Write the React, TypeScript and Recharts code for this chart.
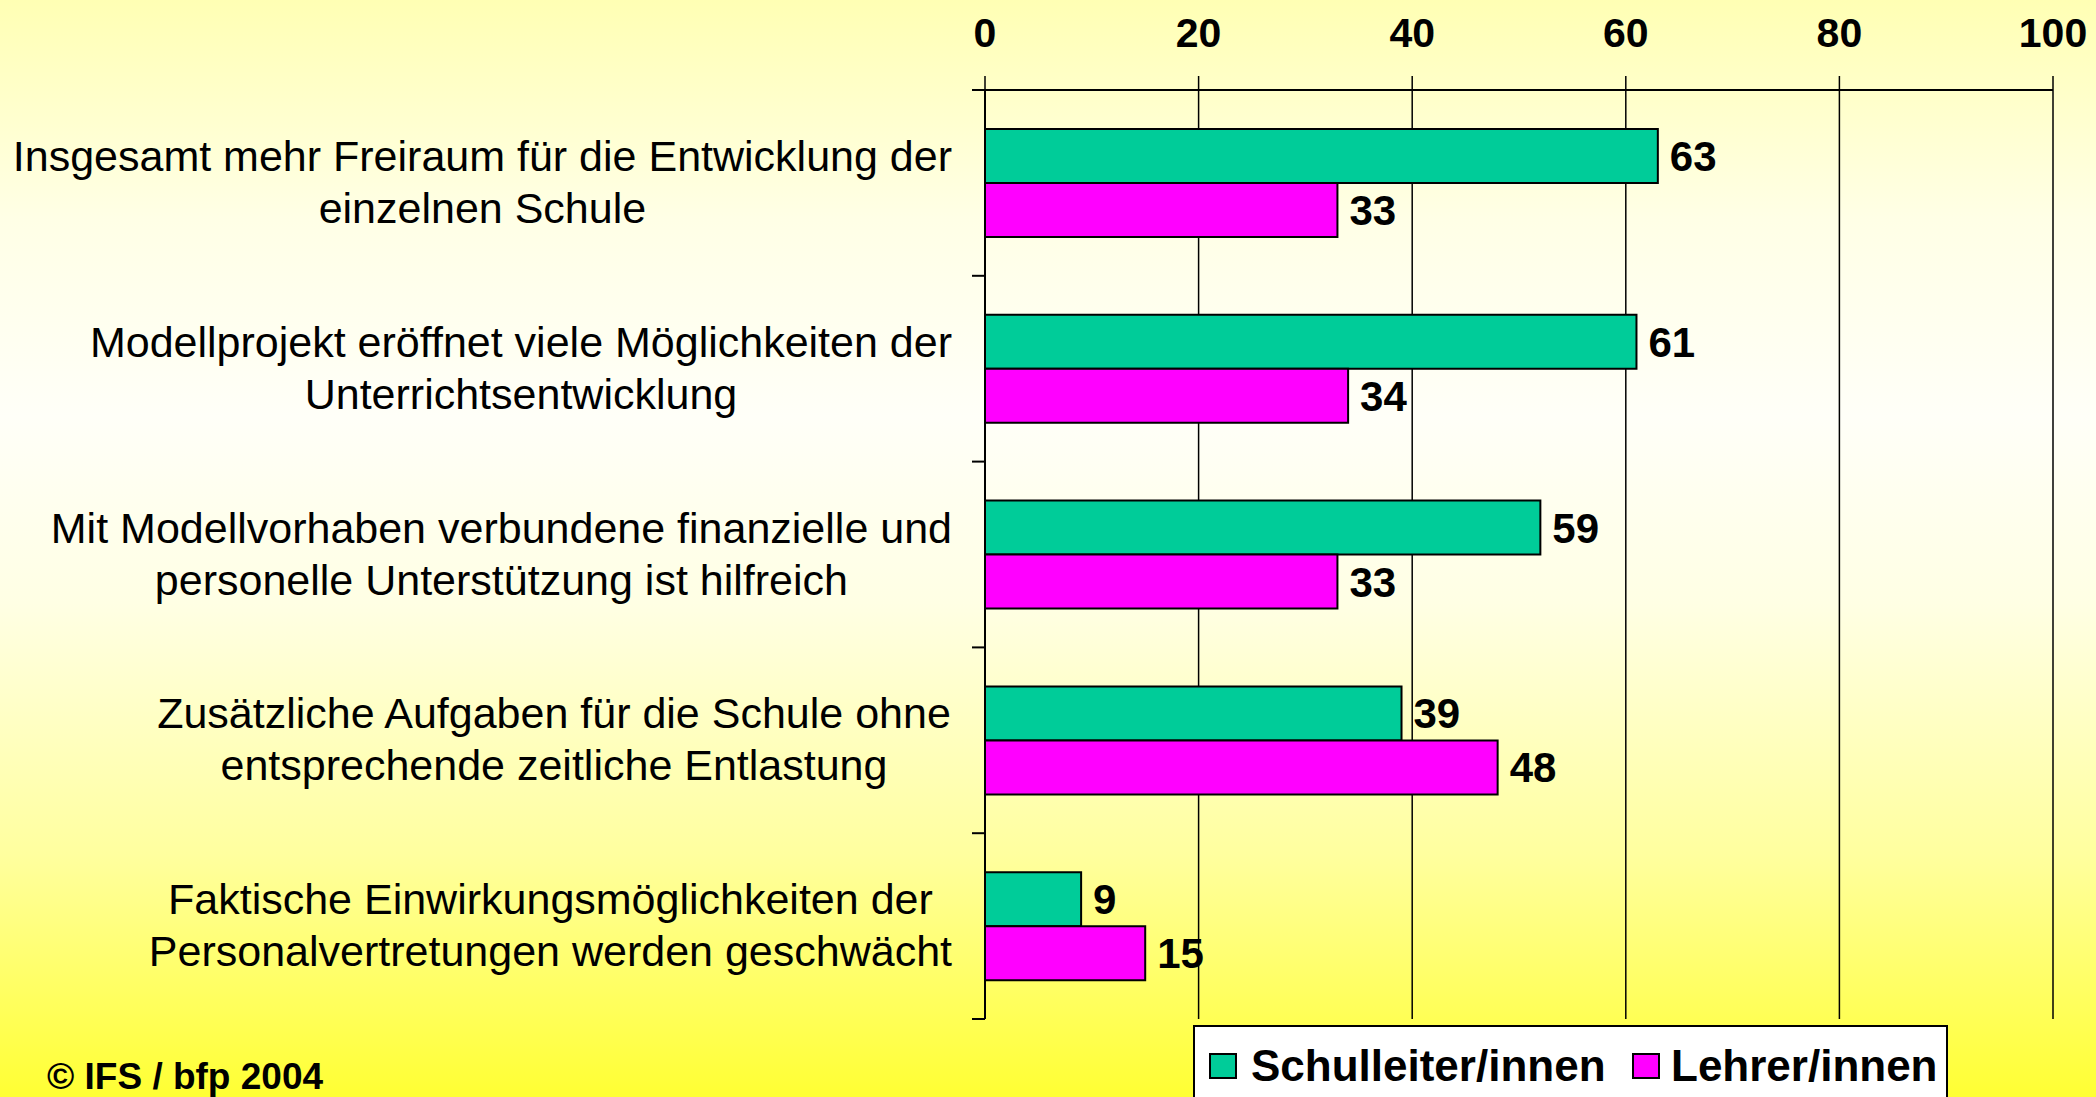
import React from "react";
import { BarChart, Bar, XAxis, YAxis, CartesianGrid, LabelList } from "recharts";

const categories = [
  "Insgesamt mehr Freiraum für die Entwicklung der\neinzelnen Schule",
  "Modellprojekt eröffnet viele Möglichkeiten der\nUnterrichtsentwicklung",
  "Mit Modellvorhaben verbundene finanzielle und\npersonelle Unterstützung ist hilfreich",
  "Zusätzliche Aufgaben für die Schule ohne\nentsprechende zeitliche Entlastung",
  "Faktische Einwirkungsmöglichkeiten der\nPersonalvertretungen werden geschwächt",
];
// bar lengths as drawn; the third green bar is drawn shorter than its printed label
const schulleiter = [63, 61, 52, 39, 9];
const schulleiterLabels = [63, 61, 59, 39, 9];
const lehrer = [33, 34, 33, 48, 15];
const lehrerLabels = [33, 34, 33, 48, 15];
const xTicks = [0, 20, 40, 60, 80, 100];

const seriesNames = ["Schulleiter/innen", "Lehrer/innen"];
const GREEN = "#00CC99";
const MAGENTA = "#FF00FF";
const FONT = "'Liberation Sans', Arial, sans-serif";

const W = 2096;
const H = 1097;
const TOP = 90;
const BOTTOM = 78;
const LEFT = 985;
const RIGHT = 43;
const PLOT_H = H - TOP - BOTTOM;

const data = categories.map((name, i) => ({
  name,
  schul: schulleiter[i],
  schulLabel: schulleiterLabels[i],
  lehrer: lehrer[i],
  lehrerLabel: lehrerLabels[i],
}));

let ctx: CanvasRenderingContext2D | null = null;
const measure = (s: string) => {
  if (!ctx) {
    ctx = document.createElement("canvas").getContext("2d");
  }
  if (!ctx) return s.length * 20;
  ctx.font = `43px ${FONT}`;
  return ctx.measureText(s).width;
};

const CategoryTick = (props: any) => {
  const { y, payload, index } = props;
  const lines = String(payload.value).split("\n");
  const widest = Math.max(...lines.map(measure));
  const cx = 952 - widest / 2;
  const band = PLOT_H / categories.length;
  return (
    <g>
      <line x1={972} x2={LEFT} y1={y - band / 2} y2={y - band / 2} stroke="#000" strokeWidth={2} />
      {index === categories.length - 1 && (
        <line x1={972} x2={LEFT} y1={y + band / 2} y2={y + band / 2} stroke="#000" strokeWidth={2} />
      )}
      <text textAnchor="middle" fontSize={43} fontFamily={FONT} fill="#000">
        {lines.map((l, i) => (
          <tspan key={i} x={cx} y={y - 12 + i * 52}>
            {l}
          </tspan>
        ))}
      </text>
    </g>
  );
};

const ValueTick = (props: any) => {
  const { x, payload } = props;
  return (
    <text x={x} y={47} textAnchor="middle" fontSize={41} fontWeight="bold" fontFamily={FONT} fill="#000">
      {payload.value}
    </text>
  );
};

export default function App() {
  return (
    <div
      style={{
        position: "fixed",
        left: 0,
        top: 0,
        width: W,
        height: H,
        overflow: "hidden",
        fontFamily: FONT,
        background:
          "linear-gradient(to bottom, #FFFFB4 0%, #FFFFE6 20%, #FFFFF8 38%, #FFFFE4 55%, #FFFF9E 78%, #FFFF33 100%)",
      }}
    >
      <BarChart
        width={W}
        height={H}
        data={data}
        layout="vertical"
        margin={{ top: 0, right: RIGHT, bottom: BOTTOM, left: 0 }}
        barSize={54}
        barGap={0}
      >
        <CartesianGrid horizontal={false} stroke="#000" strokeWidth={1.5} />
        <XAxis
          type="number"
          orientation="top"
          domain={[0, 100]}
          ticks={xTicks}
          height={TOP}
          axisLine={{ stroke: "#000", strokeWidth: 2 }}
          tickLine={{ stroke: "#000", strokeWidth: 1.5 }}
          tickSize={14}
          tick={<ValueTick />}
          interval={0}
        />
        <YAxis
          type="category"
          dataKey="name"
          width={LEFT}
          axisLine={{ stroke: "#000", strokeWidth: 2 }}
          tickLine={false}
          tick={<CategoryTick />}
          interval={0}
        />
        <Bar dataKey="schul" name={seriesNames[0]} fill={GREEN} stroke="#000" strokeWidth={2} isAnimationActive={false}>
          <LabelList dataKey="schulLabel" position="right" offset={12} fill="#000" fontSize={42} fontWeight="bold" fontFamily={FONT} />
        </Bar>
        <Bar dataKey="lehrer" name={seriesNames[1]} fill={MAGENTA} stroke="#000" strokeWidth={2} isAnimationActive={false}>
          <LabelList dataKey="lehrerLabel" position="right" offset={12} fill="#000" fontSize={42} fontWeight="bold" fontFamily={FONT} />
        </Bar>
      </BarChart>

      <div
        style={{
          position: "absolute",
          left: 1193,
          top: 1025,
          width: 755,
          height: 100,
          boxSizing: "border-box",
          background: "#fff",
          border: "2px solid #000",
        }}
      >
        {[
          { name: seriesNames[0], color: GREEN, sq: 14, tx: 56 },
          { name: seriesNames[1], color: MAGENTA, sq: 437, tx: 476 },
        ].map((it) => (
          <React.Fragment key={it.name}>
            <div
              style={{
                position: "absolute",
                left: it.sq,
                top: 26,
                width: 24,
                height: 22,
                background: it.color,
                border: "2px solid #000",
              }}
            />
            <div
              style={{
                position: "absolute",
                left: it.tx,
                top: 17,
                fontSize: 44,
                lineHeight: "44px",
                fontWeight: "bold",
                whiteSpace: "nowrap",
              }}
            >
              {it.name}
            </div>
          </React.Fragment>
        ))}
      </div>

      <div
        style={{
          position: "absolute",
          left: 47,
          top: 1058,
          fontSize: 37,
          lineHeight: "37px",
          fontWeight: "bold",
          whiteSpace: "nowrap",
        }}
      >
        © IFS / bfp 2004
      </div>
    </div>
  );
}
